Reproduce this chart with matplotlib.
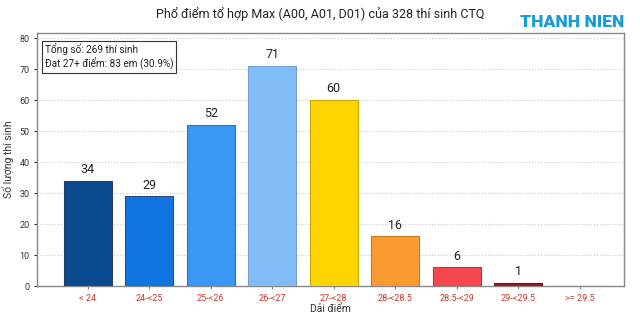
import matplotlib.pyplot as plt
import numpy as np

plt.rcParams['font.family'] = ['Roboto', 'DejaVu Sans']

# Dữ liệu
ranges = ["< 24", "24-<25", "25-<26", "26-<27", "27-<28", "28-<28.5", "28.5-<29", "29-<29.5", ">= 29.5"]
counts = [34, 29, 52, 71, 60, 16, 6, 1, 0]
colors = ["#0b4a8e", "#0f73e0", "#3a97f3", "#80bdf7", "#ffd500", "#fb9a30", "#f6474c", "#a11a24", "#e8e8e8"]
edges = ["#2c3e60", "#2c4f80", "#3870b0", "#6fa0d0", "#c8a800", "#c87a20", "#b03a3a", "#701015", "#cccccc"]

fig = plt.figure(figsize=(6.4, 3.2), dpi=100)
ax = fig.add_axes([0.058, 0.106, 0.917, 0.791])

x = np.arange(len(ranges))
bars = ax.bar(x, counts, width=0.78, color=colors, edgecolor=edges, linewidth=0.8, zorder=3)
for xi, c in zip(x, counts):
    if c > 0:
        ax.text(xi, c + 1.5, str(c), ha="center", va="bottom", fontsize=9, color="#222222")

ax.set_xlim(-0.82, 8.72)
ax.set_ylim(0, max(counts) * 1.15)
ax.set_yticks(range(0, 81, 10))
ax.set_xticks(x)
ax.set_xticklabels(ranges, color="#c0392b", fontsize=6.5)
ax.tick_params(axis="y", labelsize=6.5, colors="#333333", length=2)
ax.tick_params(axis="x", length=2, color="#888888")
ax.grid(axis="y", linestyle=":", color="#c8c8c8", linewidth=0.8, zorder=0)
for s in ax.spines.values():
    s.set_color("#888888")
    s.set_linewidth(1.0)

ax.set_xlabel("Dải điểm", fontsize=7.5, color="#333333", labelpad=1)
ax.set_ylabel("Số lượng thí sinh", fontsize=7.5, color="#333333", labelpad=4)
fig.text(0.5, 0.955, "Phổ điểm tổ hợp Max (A00, A01, D01) của 328 thí sinh CTQ",
         ha="center", va="center", fontsize=9, color="#222222")

ax.text(0.013, 0.96, "Tổng số: 269 thí sinh\nĐạt 27+ điểm: 83 em (30.9%)",
        transform=ax.transAxes, ha="left", va="top", fontsize=7.2, color="#222222",
        linespacing=1.3,
        bbox=dict(boxstyle="square,pad=0.3", facecolor="white", edgecolor="#333333", linewidth=0.8), zorder=5)

# Logo
fig.text(0.975, 0.932, "THANH NIEN", ha="right", va="center", fontsize=12.5,
         fontweight="black", color="#1a9ad6", zorder=6)

fig.savefig("out.png", dpi=100)
